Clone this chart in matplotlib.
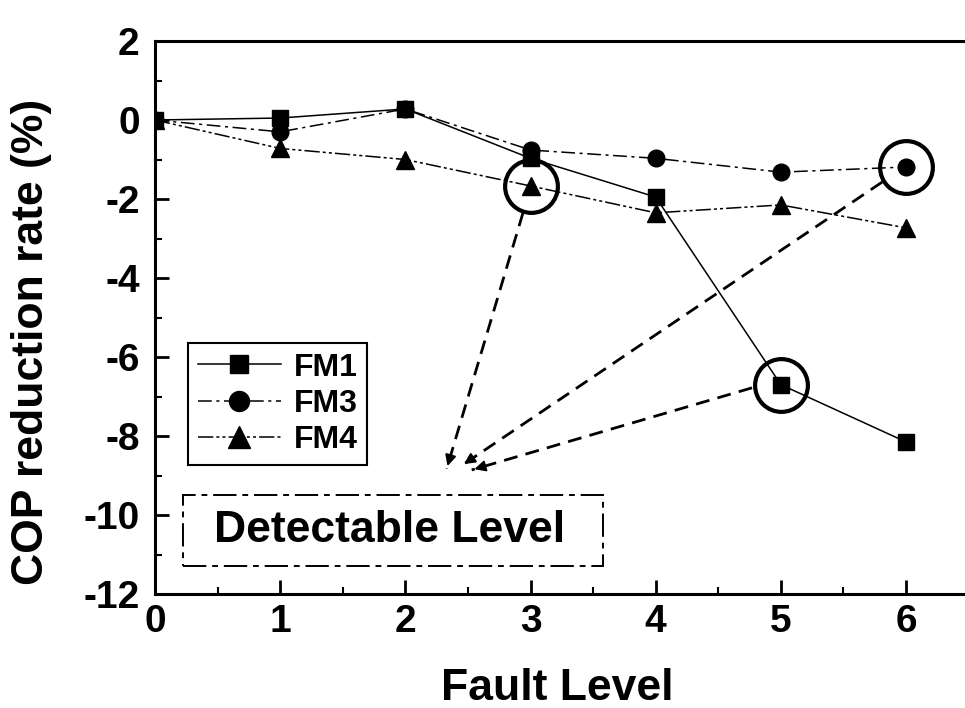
import numpy as np
import matplotlib
matplotlib.use('Agg')
import matplotlib.pyplot as plt
from matplotlib.patches import Rectangle
from matplotlib.ticker import MultipleLocator

plt.rcParams['font.family'] = ['Liberation Sans', 'DejaVu Sans']
plt.rcParams['font.weight'] = 'bold'
plt.rcParams['axes.unicode_minus'] = False

# data
fault_level = [0, 1, 2, 3, 4, 5, 6]
fm1 = [0.0, 0.05, 0.28, -0.97, -1.95, -6.7, -8.15]
fm3 = [0.0, -0.3, 0.28, -0.76, -0.97, -1.32, -1.19]
fm4 = [0.0, -0.72, -1.0, -1.67, -2.35, -2.15, -2.73]

# circled points (series, fault level) and the dashed arrows pointing to the label
circled = [(fm4, 3), (fm1, 5), (fm3, 6)]
arrow_start = [(2.94, -2.35), (5.81, -1.57), (4.77, -6.78)]
arrow_end = [(2.33, -8.83), (2.45, -8.75), (2.53, -8.86)]

W, H = 965, 708
fig = plt.figure(figsize=(W / 100, H / 100), dpi=100)
x0_px, x1_px, ytop_px, ybot_px = 155, 968.6, 41, 594
ax = fig.add_axes([x0_px / W, 1 - ybot_px / H, (x1_px - x0_px) / W, (ybot_px - ytop_px) / H])

ax.plot(fault_level, fm1, color='black', lw=1.1, ls='-', marker='s', ms=11, label='FM1')
ax.plot(fault_level, fm3, color='black', lw=1.1, ls=(0, (9, 3, 2, 3)), marker='o', ms=12, label='FM3')
ax.plot(fault_level, fm4, color='black', lw=1.1, ls=(0, (10, 2, 2, 2, 2, 2)), marker='^', ms=13, label='FM4')

# open circles round the detectable points
for series, lvl in circled:
    ax.plot(lvl, series[lvl], marker='o', ms=38, mfc='none', mec='black', mew=3, ls='none')

# dashed arrows
for (sx, sy), (ex, ey) in zip(arrow_start, arrow_end):
    ax.plot([sx, ex], [sy, ey], color='black', lw=2.0, ls=(0, (5, 3)))
    dx, dy = ex - sx, ey - sy
    ax.annotate('', xy=(ex, ey), xytext=(ex - 0.04 * dx, ey - 0.04 * dy),
                arrowprops=dict(arrowstyle='-|>', color='black', lw=1.5, mutation_scale=16))

# detectable level box
ax.add_patch(Rectangle((0.22, -11.3), 3.36, 1.81, fill=False, ec='black', lw=1.4,
                       ls=(0, (12, 3, 3, 3))))
ax.text(1.87, -10.38, 'Detectable Level', fontsize=32, fontweight='bold', ha='center', va='center')

ax.set_xlim(0, 6.5)
ax.set_ylim(-12, 2)
ax.xaxis.set_major_locator(MultipleLocator(1))
ax.xaxis.set_minor_locator(MultipleLocator(0.5))
ax.yaxis.set_major_locator(MultipleLocator(2))
ax.yaxis.set_minor_locator(MultipleLocator(1))
ax.tick_params(which='major', direction='in', length=10, width=2, labelsize=28, pad=7)
ax.tick_params(which='minor', direction='in', length=5, width=1.5)
ax.tick_params(axis='y', pad=11)
for lab in ax.get_xticklabels() + ax.get_yticklabels():
    lab.set_fontweight('bold')
for s in ['left', 'bottom', 'top']:
    ax.spines[s].set_linewidth(2.2)
ax.spines['right'].set_visible(False)

leg = ax.legend(loc='upper left', bbox_to_anchor=(188 / W, 1 - 343 / H), bbox_transform=fig.transFigure,
                borderaxespad=0, fancybox=False, edgecolor='black', framealpha=1,
                prop={'size': 23, 'weight': 'bold'}, handlelength=2.6, handletextpad=0.4,
                labelspacing=0.2, borderpad=0.3, markerscale=1.2)
leg.get_frame().set_linewidth(1.5)

fig.text(557 / W, 1 - 688 / H, 'Fault Level', fontsize=32, fontweight='bold', ha='center', va='center')
fig.text(32 / W, 1 - 342 / H, 'COP reduction rate (%)', fontsize=32, fontweight='bold',
         ha='center', va='center', rotation=90)

fig.savefig('out.png', dpi=100)
